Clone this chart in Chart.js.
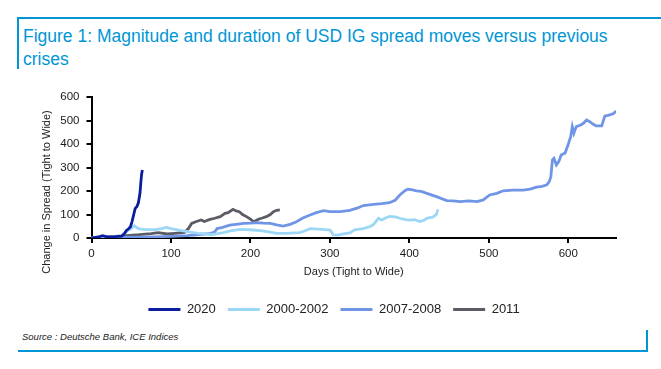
<!DOCTYPE html>
<html>
<head>
<meta charset="utf-8">
<script src="https://cdn.jsdelivr.net/npm/chart.js@4.4.1/dist/chart.umd.min.js"></script>
<style>
    html, body { margin: 0; padding: 0; background: #fff; }
    body { width: 661px; height: 369px; position: relative; overflow: hidden; font-family: "Liberation Sans", Arial, sans-serif; }
    .rule { position: absolute; background: #0096d6; }
    #title { position: absolute; left: 23px; top: 25px; font-size: 17.5px; line-height: 23px; color: #0096d6; white-space: nowrap; }
    #source { position: absolute; left: 22px; top: 331px; font-size: 9.5px; font-style: italic; color: #222; }
    #wrap { position: absolute; left: 0; top: 80px; width: 661px; height: 246px; }
</style>
</head>
<body>
<div class="rule" style="left:17px; top:17px; width:644px; height:2px;"></div>
<div class="rule" style="left:17px; top:17px; width:2px; height:52px;"></div>
<div id="title">Figure 1: Magnitude and duration of USD IG spread moves versus previous<br>crises</div>
<div id="wrap"><canvas id="chart" width="661" height="246"></canvas></div>
<div id="source">Source : Deutsche Bank, ICE Indices</div>
<div class="rule" style="left:18px; top:350px; width:630px; height:2px;"></div>
<div class="rule" style="left:646px; top:330px; width:2px; height:22px;"></div>

<script>
// values (days since tight, change in spread bp)
const days2020 = [0, 5, 10, 14, 17, 21, 30, 38, 41, 44, 47, 49, 51, 53, 55, 57, 59, 61, 62, 63, 64];
const spread2020 = [0, 3, 6, 10, 7, 5, 6, 8, 17, 32, 40, 48, 70, 98, 126, 133, 150, 190, 233, 270, 289];

const days0002 = [0, 14, 30, 38, 42, 46, 50, 54, 58, 62, 70, 80, 88, 94, 100, 110, 121, 134, 145, 150, 157, 166, 175, 187, 195, 203, 215, 225, 233, 245, 255, 262, 268, 275, 285, 293, 300, 302, 304, 310, 317, 325, 331, 342, 350, 354, 358, 361, 365, 370, 375, 382, 388, 395, 400, 407, 413, 418, 422, 430, 434, 436];
const spread0002 = [0, 4, 6, 10, 22, 33, 40, 52, 42, 38, 36, 36, 40, 45, 40, 33, 27, 20, 18, 14, 18, 23, 30, 37, 36, 34, 30, 25, 20, 20, 22, 23, 30, 40, 38, 36, 34, 25, 13, 12, 18, 22, 35, 40, 48, 55, 70, 84, 77, 85, 92, 90, 84, 78, 76, 78, 70, 75, 84, 90, 100, 122];

const days0708 = [0, 20, 40, 60, 80, 100, 120, 135, 145, 150, 155, 158, 165, 174, 182, 191, 200, 208, 216, 225, 233, 241, 250, 258, 266, 275, 283, 292, 300, 313, 325, 335, 342, 355, 365, 375, 382, 388, 394, 398, 404, 409, 415, 422, 434, 447, 455, 464, 475, 485, 493, 501, 510, 518, 530, 543, 552, 560, 567, 573, 576, 578, 580, 582, 585, 588, 591, 596, 600, 603, 605, 607, 610, 615, 619, 623, 627, 631, 635, 642, 646, 650, 654, 657, 660];
const spread0708 = [0, 2, 3, 4, 5, 7, 10, 14, 18, 20, 25, 40, 45, 55, 58, 62, 63, 65, 63, 62, 56, 51, 58, 69, 85, 98, 108, 116, 112, 112, 118, 128, 138, 143, 146, 150, 160, 183, 200, 208, 205, 201, 198, 190, 176, 159, 158, 155, 158, 155, 162, 183, 190, 201, 204, 204, 208, 216, 220, 226, 240, 260, 332, 339, 311, 325, 353, 362, 400, 431, 474, 446, 474, 480, 488, 502, 495, 485, 477, 477, 519, 522, 526, 530, 540];

const days2011 = [0, 20, 40, 60, 75, 84, 95, 105, 117, 122, 126, 132, 138, 142, 148, 155, 162, 168, 172, 178, 182, 186, 190, 195, 200, 204, 210, 215, 220, 225, 229, 233, 237];
const spread2011 = [0, 5, 9, 14, 19, 23, 17, 20, 24, 40, 62, 70, 77, 70, 78, 84, 91, 105, 108, 122, 115, 112, 100, 91, 80, 69, 80, 85, 91, 100, 112, 118, 120];

const seriesLabels = ['2020', '2000-2002', '2007-2008', '2011'];
const seriesColors = ['#0a1d9c', '#9dd7f6', '#7195e6', '#5c5c66'];
const xTicks = { min: 0, max: 660, step: 100 };
const yTicks = { min: 0, max: 600, step: 100 };
const xTitle = 'Days (Tight to Wide)';
const yTitle = 'Change in Spread (Tight to Wide)';

const FONT = '"Liberation Sans", Arial, sans-serif';

function toPoints(xs, ys) {
    return xs.map((x, i) => ({ x, y: ys[i] }));
}

const allSeries = [
    toPoints(days2020, spread2020),
    toPoints(days0002, spread0002),
    toPoints(days0708, spread0708),
    toPoints(days2011, spread2011)
];

// rotated y title, drawn here so it can sit left of the tick labels
const yTitlePlugin = {
    id: 'yTitle',
    afterDraw(chart) {
        const { ctx, chartArea, scales } = chart;
        ctx.save();
        ctx.translate(chartArea.left - 44.5, (chartArea.top + scales.x.bottom) / 2 - 2);
        ctx.rotate(-Math.PI / 2);
        ctx.font = '11px ' + FONT;
        ctx.fillStyle = '#222';
        ctx.textAlign = 'center';
        ctx.textBaseline = 'middle';
        ctx.fillText(yTitle, 0, 0);
        ctx.restore();
    }
};

new Chart(document.getElementById('chart').getContext('2d'), {
    type: 'line',
    data: {
        datasets: allSeries.map((pts, i) => ({
            label: seriesLabels[i],
            data: pts,
            borderColor: seriesColors[i],
            backgroundColor: seriesColors[i],
            borderWidth: 2.8,
            pointRadius: 0,
            tension: 0
        }))
    },
    options: {
        responsive: false,
        animation: false,
        layout: { padding: { left: 52, right: 45, top: 17, bottom: 0 } },
        plugins: {
            legend: {
                position: 'bottom',
                labels: {
                    boxWidth: 32,
                    boxHeight: 3,
                    padding: 12,
                    color: '#222',
                    font: { family: FONT, size: 13 },
                    generateLabels: chart => Chart.defaults.plugins.legend.labels.generateLabels(chart)
                        .map(item => ({ ...item, lineWidth: 0 }))
                }
            },
            tooltip: { enabled: false }
        },
        scales: {
            x: {
                type: 'linear',
                min: xTicks.min,
                max: xTicks.max,
                afterFit: scale => { scale.height = 53; },
                ticks: { stepSize: xTicks.step, includeBounds: false, padding: 4, color: '#1a1a1a', font: { family: FONT, size: 11.5 } },
                grid: { drawOnChartArea: false, tickLength: 5, color: '#000', lineWidth: 2 },
                border: { color: '#000', width: 2 },
                title: { display: true, text: xTitle, color: '#222', font: { family: FONT, size: 11 }, padding: { top: 4, bottom: 12 } }
            },
            y: {
                min: yTicks.min,
                max: yTicks.max,
                afterFit: scale => { scale.width = 39.5; },
                ticks: { stepSize: yTicks.step, padding: 7, color: '#1a1a1a', font: { family: FONT, size: 11.5 } },
                grid: { drawOnChartArea: false, tickLength: 5, color: '#000', lineWidth: 2 },
                border: { color: '#000', width: 2 }
            }
        }
    },
    plugins: [yTitlePlugin]
});
</script>
</body>
</html>
